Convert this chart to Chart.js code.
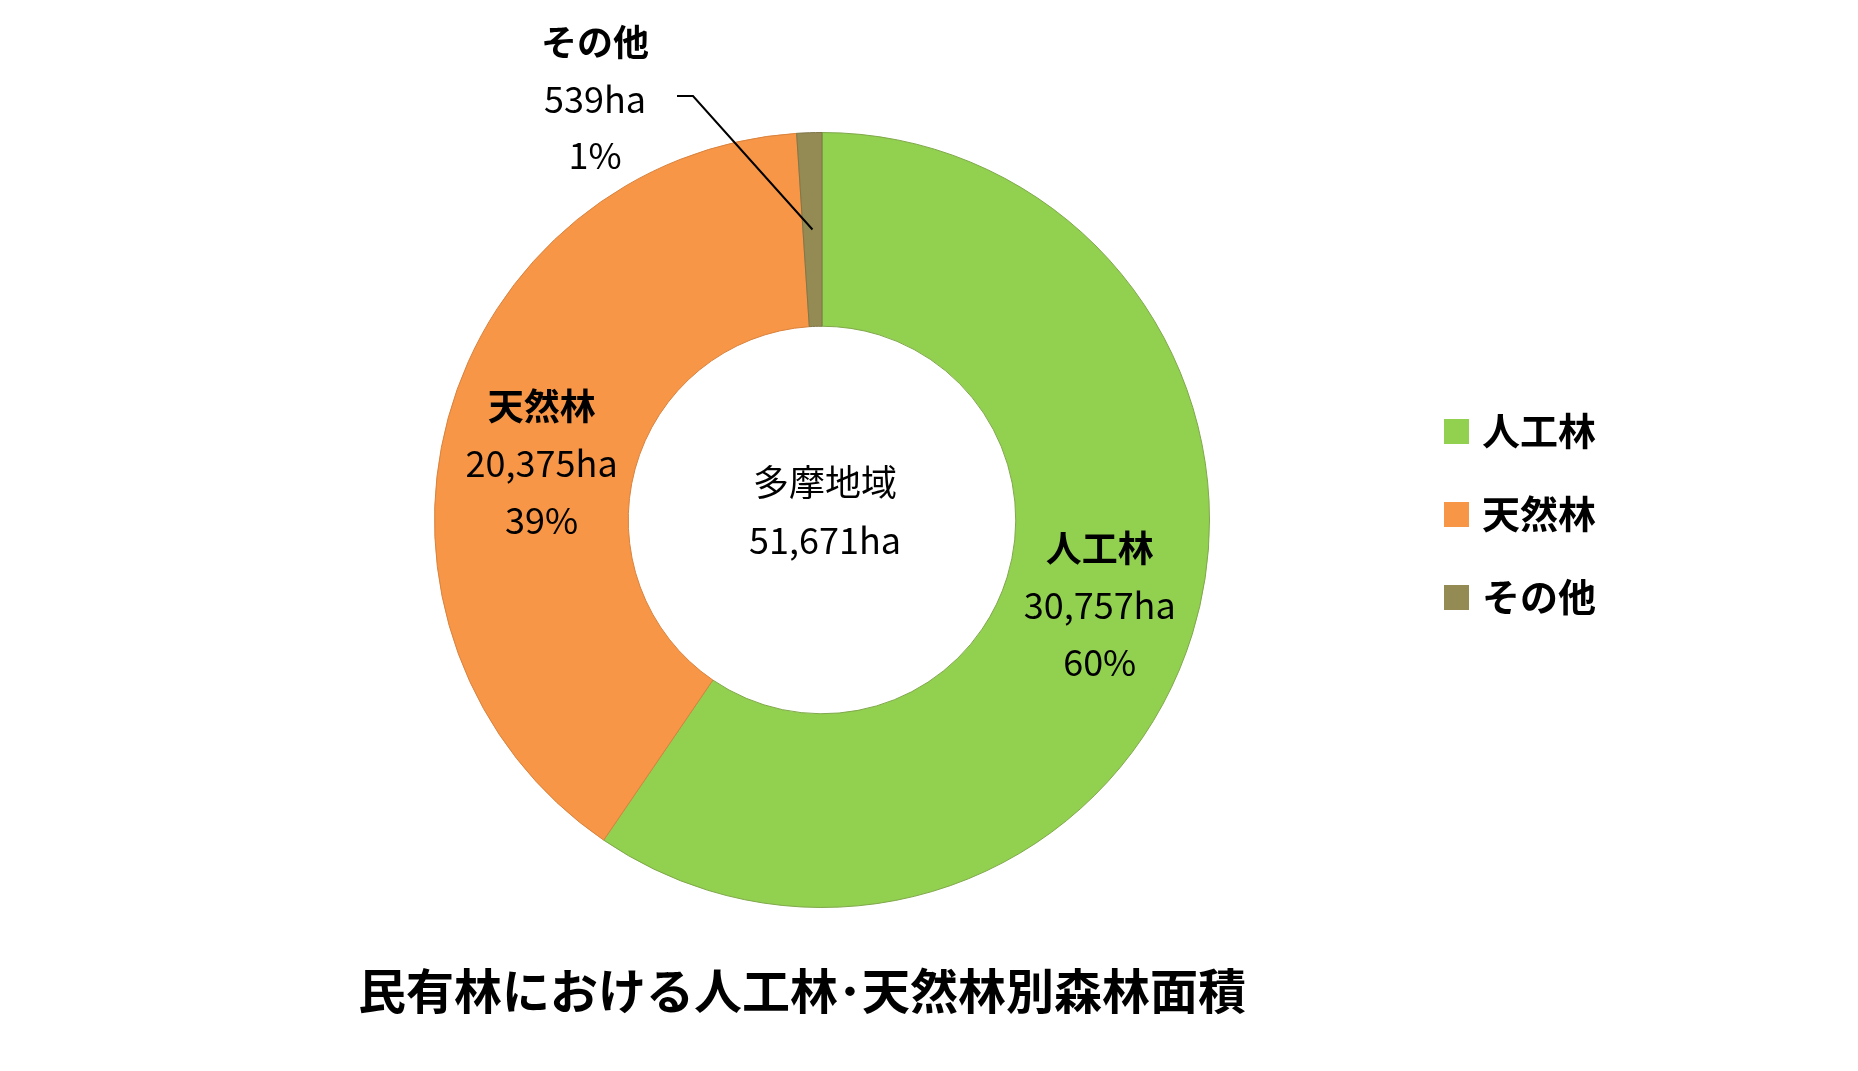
<!DOCTYPE html>
<html><head><meta charset="utf-8">
<script src="https://cdn.jsdelivr.net/npm/chart.js@4/dist/chart.umd.min.js"></script>
<style>body{margin:0;background:#fff}canvas{display:block}</style>
</head><body>
<canvas id="c" width="1858" height="1071"></canvas>
<script>
const categories = ['人工林', '天然林', 'その他'];
const areas = [30757, 20375, 539];
const percents = ['60%', '39%', '1%'];
const areaLabels = ['30,757ha', '20,375ha', '539ha'];
const colors = ['#92D050', '#F79646', '#948A54'];
const borders = ['#7FA84A', '#D9823E', '#7F7648'];
const centerTitle = '多摩地域';
const centerValue = '51,671ha';
const chartTitle = '民有林における人工林･天然林別森林面積';
const FONT = '"Noto Sans CJK JP", "Noto Sans", sans-serif';

const deco = {
  id: 'deco',
  afterDraw(chart) {
    const ctx = chart.ctx;
    const meta = chart.getDatasetMeta(0);
    const a0 = meta.data[0];
    const cx = a0.x, cy = a0.y;
    ctx.save();
    ctx.fillStyle = '#000';
    ctx.textAlign = 'center';
    ctx.textBaseline = 'middle';
    // center
    ctx.font = '36px ' + FONT;
    ctx.fillText(centerTitle, cx + 3, cy - 38);
    ctx.fillText(centerValue, cx + 3, cy + 20);
    // slice labels
    for (let i = 0; i < 2; i++) {
      const a = meta.data[i];
      const mid = (a.startAngle + a.endAngle) / 2;
      const r = (a.innerRadius + a.outerRadius) / 2;
      let x = cx + Math.cos(mid) * r, y = cy + Math.sin(mid) * r;
      if (i === 1) y += 20;
      ctx.font = 'bold 36px ' + FONT;
      ctx.fillText(categories[i], x, y - 57);
      ctx.font = '36px ' + FONT;
      ctx.fillText(areaLabels[i], x, y);
      ctx.fillText(percents[i], x, y + 57);
    }
    // other label with leader line
    const a2 = meta.data[2];
    const mid2 = (a2.startAngle + a2.endAngle) / 2;
    const rr = (a2.innerRadius + a2.outerRadius) / 2;
    const px = cx + Math.cos(mid2) * rr, py = cy + Math.sin(mid2) * rr;
    ctx.strokeStyle = '#000'; ctx.lineWidth = 2;
    ctx.beginPath(); ctx.moveTo(677, 96); ctx.lineTo(693, 96); ctx.lineTo(px, py); ctx.stroke();
    ctx.font = 'bold 36px ' + FONT;
    ctx.fillText(categories[2], 595, 42);
    ctx.font = '36px ' + FONT;
    ctx.fillText(areaLabels[2], 595, 99);
    ctx.fillText(percents[2], 595, 155);
    // legend
    ctx.textAlign = 'left';
    for (let i = 0; i < 3; i++) {
      const ly = 431 + i * 83;
      ctx.fillStyle = colors[i];
      ctx.fillRect(1444, ly - 12, 25, 25);
      ctx.fillStyle = '#000';
      ctx.font = 'bold 38px ' + FONT;
      ctx.fillText(categories[i], 1482, ly);
    }
    // title
    ctx.textAlign = 'center';
    ctx.font = 'bold 48px ' + FONT;
    ctx.fillText(chartTitle, 802, 991);
    ctx.restore();
  }
};

new Chart(document.getElementById('c'), {
  type: 'doughnut',
  data: { labels: categories, datasets: [{ data: areas, backgroundColor: colors, borderColor: borders, borderWidth: 1 }] },
  options: {
    responsive: false, animation: false, cutout: '50%',
    layout: { padding: { left: 434, right: 648, top: 132, bottom: 163 } },
    plugins: { legend: { display: false }, tooltip: { enabled: false } }
  },
  plugins: [deco]
});
</script>
</body></html>
